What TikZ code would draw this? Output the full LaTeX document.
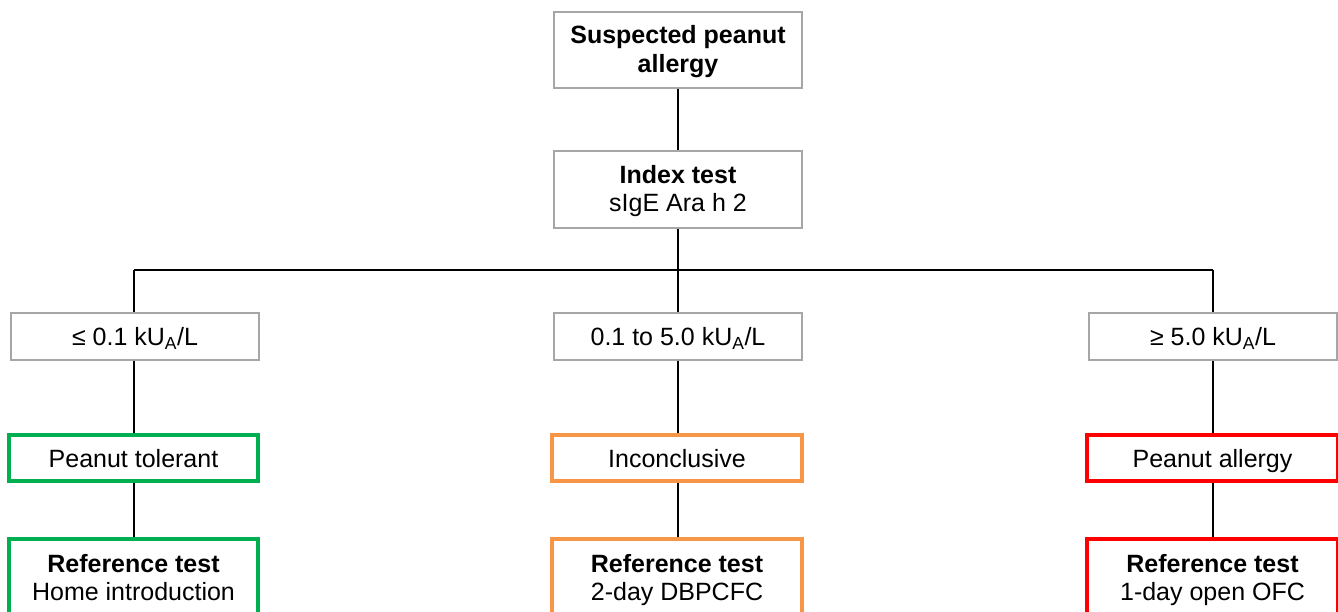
\documentclass[tikz,border=0pt]{standalone}
\usepackage{fontspec}
\setmainfont{Liberation Sans}
\definecolor{okgreen}{HTML}{00B050}
\definecolor{midorange}{HTML}{F79646}
\definecolor{alred}{HTML}{FF0000}
\definecolor{boxgray}{HTML}{A6A6A6}
\newcommand{\twolines}[2]{\rule{0pt}{22pt}#1\\#2\rule[-5.5pt]{0pt}{5.5pt}}
\begin{document}
\begin{tikzpicture}[x=1pt,y=-1pt,
  every node/.style={font=\fontsize{25}{28.5}\selectfont, align=center, inner sep=0pt},
  oneline/.style={text height=18pt, text depth=0pt},
  graybox/.style={draw=boxgray, line width=1.2pt, minimum width=248pt},
  colbox/.style={draw=#1, line width=3.8pt},
  link/.style={draw=black, line width=1.3pt}]
\useasboundingbox (0,0) rectangle (1338,612);
\clip (0,0) rectangle (1338,612);
\fill[white] (0,0) rectangle (1338,612);
% top nodes
\node[graybox, minimum height=76pt] (top) at (678,50) {\twolines{\textbf{Suspected peanut}}{\textbf{allergy}}};
\node[graybox, minimum height=77pt] (index) at (678,189.5) {\twolines{\textbf{Index test}}{sIgE Ara h 2}};
% thresholds
\node[graybox, oneline, minimum height=47pt] (b1) at (135,336.5) {≤ 0.1 kU\textsubscript{A}/L};
\node[graybox, oneline, minimum height=47pt] (b2) at (678,336.5) {0.1 to 5.0 kU\textsubscript{A}/L};
\node[graybox, oneline, minimum height=47pt] (b3) at (1213,336.5) {≥ 5.0 kU\textsubscript{A}/L};
% outcomes
\node[colbox=okgreen, oneline, minimum width=249pt, minimum height=46pt] (r1) at (133.5,458) {Peanut tolerant};
\node[colbox=midorange, oneline, minimum width=250pt, minimum height=46pt] (r2) at (677,458) {Inconclusive};
\node[colbox=alred, oneline, minimum width=251pt, minimum height=46pt] (r3) at (1212.5,458) {Peanut allergy};
% reference tests
\node[colbox=okgreen, minimum width=249pt, minimum height=78pt] (t1) at (133.5,578) {\twolines{\textbf{Reference test}}{Home introduction}};
\node[colbox=midorange, minimum width=250pt, minimum height=78pt] (t2) at (677,578) {\twolines{\textbf{Reference test}}{2-day DBPCFC}};
\node[colbox=alred, minimum width=251pt, minimum height=78pt] (t3) at (1212.5,578) {\twolines{\textbf{Reference test}}{1-day open OFC}};
% connectors
\coordinate (jm) at (678,270);
\coordinate (jl) at (134,270);
\coordinate (jr) at (1213,270);
\draw[link] (top.south) -- (index.north);
\draw[link] (index.south) -- (jm);
\draw[link] (jl) -- (jr);
\draw[link] (jl) -- (jl |- b1.north);
\draw[link] (jm) -- (b2.north);
\draw[link] (jr) -- (b3.north);
\draw[link] (b1.south -| jl) -- (r1.north -| jl);
\draw[link] (b2.south) -- (b2.south |- r2.north);
\draw[link] (b3.south -| jr) -- (r3.north -| jr);
\draw[link] (r1.south -| jl) -- (t1.north -| jl);
\draw[link] (r2.south -| jm) -- (t2.north -| jm);
\draw[link] (r3.south -| jr) -- (t3.north -| jr);
\end{tikzpicture}
\end{document}
